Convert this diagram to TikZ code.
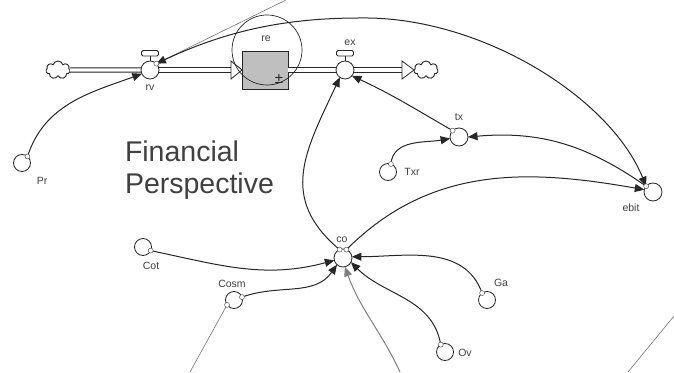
\documentclass[tikz,border=0pt]{standalone}
\usepackage{fontspec}
\setmainfont{Liberation Sans}
\usetikzlibrary{arrows.meta,shapes.symbols}
\tikzset{vtip/.tip={Triangle[length=9.5pt,width=8pt]}}

\begin{document}
\begin{tikzpicture}[x=1pt,y=1pt,
  every node/.style={inner sep=0pt,outer sep=0pt},
  aux/.style={circle,draw=black!85,line width=0.8pt,fill=white,minimum size=17pt},
  valvebody/.style={circle,draw=black!85,line width=0.8pt,fill=white,minimum size=18pt},
  handle/.style={draw=black!85,line width=0.8pt,fill=white,rounded corners=1.5pt,
                 minimum width=17pt,minimum height=5.5pt},
  port/.style={circle,draw=black!65,line width=0.5pt,fill=white,minimum size=5pt},
  stockbox/.style={draw=black!85,line width=0.8pt,fill=black!25,minimum width=46pt,minimum height=38pt},
  cloudy/.style={cloud,cloud puffs=7,draw=black!85,line width=0.9pt,fill=white,
                 minimum width=24pt,minimum height=18pt,aspect=1.4},
  pipe/.style={draw=black!85,line width=0.9pt,double=white,double distance=3.4pt},
  flowtip/.style={draw=black!85,line width=0.8pt,fill=white},
  lbl/.style={font=\fontsize{10.5}{11}\selectfont,text=black!75},
  link/.style={draw=black!85,line width=1pt,-{vtip}},
  faint/.style={draw=black!55,line width=0.6pt},
  greylink/.style={draw=black!50,line width=1pt,-{vtip}},
  title/.style={anchor=base west,font=\fontsize{28.5}{32}\selectfont,text=black!75}
]
\useasboundingbox (0,0) rectangle (674,372);

% ---- flow chain: source cloud -> rv -> stock re -> ex -> sink cloud
\node[cloudy] (srcC) at (58,302) {};
\node[cloudy] (sinkC) at (426,302) {};
\node[stockbox] (re) at (265,302) {};
\coordinate (inTip) at (re.west);
\coordinate (inBase) at (231,302);
\coordinate (outBase) at (402,302);
\coordinate (outTip) at (414,302);

\draw[pipe] (srcC.east) -- (150,302);
\draw[pipe] (150,302) -- (inBase);
\draw[flowtip] (inTip) -- (231,311) -- (231,293) -- cycle;
\draw[pipe] (re.east) -- (outBase);
\draw[flowtip] (outTip) -- (402,311) -- (402,293) -- cycle;

\node[valvebody] (rv) at (150,302) {};
\draw[draw=black!85,line width=0.8pt] (rv.north) -- ++(0,5) node[handle,anchor=south] (rvH) {};
\node[valvebody] (ex) at (345,302) {};
\draw[draw=black!85,line width=0.8pt] (ex.north) -- ++(0,5) node[handle,anchor=south] (exH) {};

\node[font=\fontsize{15}{15}\selectfont,text=black!85] (pm) at (279,293) {±};
\node[circle,draw=black!85,line width=0.7pt,minimum size=70pt] (reRing) at (267,322) {};

% ---- converters
\node[aux] (Pr) at (22,209) {};
\node[aux,minimum size=18pt] (tx) at (459,235) {};
\node[aux] (Txr) at (388,200) {};
\node[aux,minimum size=18pt] (ebit) at (653,180) {};
\node[aux,minimum size=18pt] (co) at (343,114) {};
\node[aux] (Cot) at (143,125) {};
\node[aux] (Cosm) at (234,72) {};
\node[aux] (Ga) at (487,72) {};
\node[aux] (Ov) at (445,20) {};

% ---- connector ports
\coordinate (PrP) at (Pr.50);
\coordinate (rvP) at (rv.45);
\coordinate (coPL) at (co.112);
\coordinate (coPR) at (co.68);
\coordinate (CotP) at (Cot.-25);
\coordinate (CosmP) at (Cosm.20);
\coordinate (CosmPL) at (Cosm.215);
\coordinate (txP) at (tx.135);
\coordinate (TxrP) at (Txr.70);
\coordinate (ebitP) at (ebit.140);
\coordinate (GaP) at (Ga.125);
\coordinate (OvP) at (Ov.120);

% loose ends running off the sheet
\coordinate (topEnd) at (286,372);
\coordinate (archTop) at (360,354);
\coordinate (lowIn) at (400,0);
\coordinate (lowLeft) at (190,0);
\coordinate (brA) at (628,0);
\coordinate (brB) at (674,56);

% ---- connectors
\draw[faint] (topEnd) -- (rvP);
\draw[link,{vtip}-{vtip}] (rvP) .. controls (230,343) and (290,354) .. (archTop)
      .. controls (480,356) and (610,275) .. (ebitP);
\draw[link] (PrP) to[out=72,in=200] (rv.205);
\draw[link] (coPL) to[out=140,in=245,looseness=1.2] (ex.235);
\draw[link] (txP) to[out=150,in=-25] (ex.-40);
\draw[link] (TxrP) to[out=85,in=190] (tx.190);
\draw[link] (ebitP) to[out=145,in=5] (tx.east);
\draw[link] (coPR) to[out=45,in=170] (ebit.165);
\draw[link] (CotP) to[out=-12,in=195] (co.195);
\draw[link] (CosmP) to[out=20,in=235] (co.228);
\draw[link] (GaP) to[out=110,in=0] (co.8);
\draw[link] (OvP) to[out=100,in=-45] (co.-28);
\draw[greylink] (lowIn) to[out=115,in=-70] (co.-78);
\draw[faint] (CosmPL) -- (lowLeft);
\draw[faint] (brA) -- (brB);

% ---- port markers on top
\foreach \p in {PrP,rvP,coPL,coPR,CotP,CosmP,CosmPL,txP,TxrP,ebitP,GaP,OvP}
  \node[port] at (\p) {};

% ---- labels
\node[lbl] at (150,284) {rv};
\node[lbl] at (350,329) {ex};
\node[lbl] at (266,333) {re};
\node[lbl] at (42,191) {Pr};
\node[lbl] at (459,255) {tx};
\node[lbl] at (412,200) {Txr};
\node[lbl] at (631,164) {ebit};
\node[lbl] at (342,132) {co};
\node[lbl] at (151,106) {Cot};
\node[lbl] at (232,88) {Cosm};
\node[lbl] at (501,89) {Ga};
\node[lbl] at (465,19) {Ov};

\node[title] (fin) at (125,210) {Financial};
\node[title] (persp) at (125,178) {Perspective};
\end{tikzpicture}
\end{document}
